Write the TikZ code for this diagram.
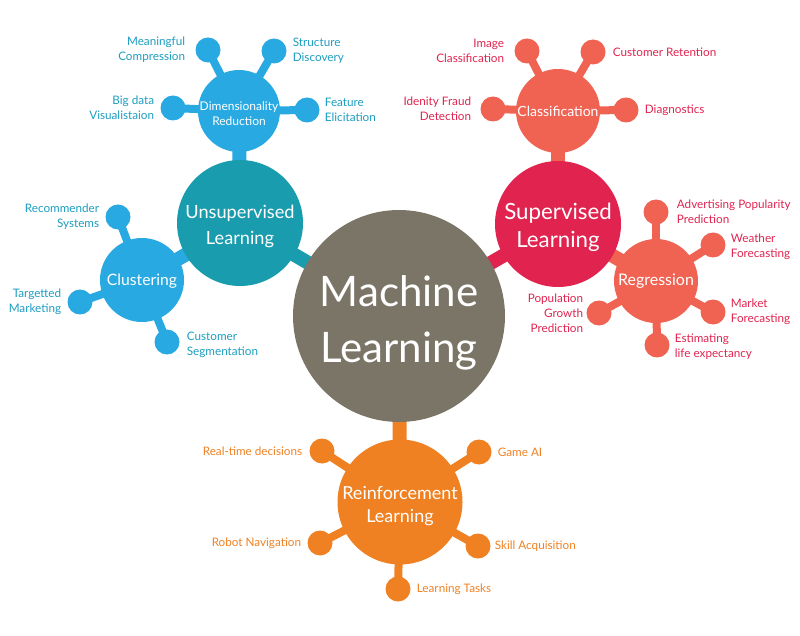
\documentclass[tikz,border=0pt]{standalone}
\usepackage{fontspec}
\setmainfont{Lato}
\usepackage{tikz}
\usetikzlibrary{positioning,backgrounds}

\definecolor{mlgray}{HTML}{7A7566}
\definecolor{unsupc}{HTML}{199DAE}
\definecolor{dimc}{HTML}{29A9E1}
\definecolor{bluetext}{HTML}{1C9DC0}
\definecolor{supc}{HTML}{E0234F}
\definecolor{clsc}{HTML}{F06252}
\definecolor{rlc}{HTML}{EF8123}

\begin{document}
\begin{tikzpicture}[x=1pt,y=-1pt,
    hub/.style={circle,fill=#1,inner sep=0pt,outer sep=0pt},
    hubtext/.style={text=white,align=center,inner sep=0pt},
    dot/.style={circle,fill=#1,inner sep=0pt,minimum size=25pt},
    lab/.style={text=#1,font=\fontsize{11.7}{15}\selectfont,inner sep=0pt},
    stem/.style={draw=#1,line width=14pt},
    twig/.style={draw=#1,line width=8pt}]
        \useasboundingbox (0,0) rectangle (800,636);

        % hubs
        \node[hub=mlgray,minimum size=212pt,label={[hubtext,yshift=-7pt,font=\fontsize{42}{56}\selectfont]center:Machine\\Learning}] (ml) at (399,316) {};
        \node[hub=unsupc,minimum size=126pt,label={[hubtext,yshift=-3pt,font=\fontsize{18.2}{26}\selectfont]center:Unsupervised\\Learning}] (unsup) at (240,223) {};
        \node[hub=supc,minimum size=126pt,label={[hubtext,yshift=-3pt,font=\fontsize{22.3}{28}\selectfont]center:Supervised\\Learning}] (sup) at (558,224) {};
        \node[hub=rlc,minimum size=125pt,label={[hubtext,yshift=-4pt,font=\fontsize{18}{23}\selectfont]center:Reinforcement\\Learning}] (rl) at (400,502) {};
        \node[hub=dimc,minimum size=82pt,label={[hubtext,yshift=-3pt,font=\fontsize{12}{15}\selectfont]center:Dimensionality\\Reduction}] (dim) at (239,111) {};
        \node[hub=dimc,minimum size=84pt,label={[hubtext,yshift=-1pt,font=\fontsize{15.7}{18}\selectfont]center:Clustering}] (clus) at (142,280) {};
        \node[hub=clsc,minimum size=84pt,label={[hubtext,font=\fontsize{14}{17}\selectfont]center:Classification}] (cls) at (558,111) {};
        \node[hub=clsc,minimum size=84pt,label={[hubtext,font=\fontsize{16}{18}\selectfont]center:Regression}] (reg) at (656,281) {};

        % satellites
        \node[dot=dimc] (mc) at (208,50) {};
        \node[dot=dimc] (sd) at (274,51) {};
        \node[dot=dimc] (bd) at (173,108) {};
        \node[dot=dimc] (fe) at (307,110) {};
        \node[dot=dimc] (rs) at (118,217) {};
        \node[dot=dimc] (tm) at (80,302) {};
        \node[dot=dimc] (cs) at (167,342) {};
        \node[dot=clsc] (ic) at (527,51) {};
        \node[dot=clsc] (cr) at (593,52) {};
        \node[dot=clsc] (fd) at (493,109) {};
        \node[dot=clsc] (dg) at (626,110) {};
        \node[dot=clsc] (ap) at (656,212) {};
        \node[dot=clsc] (wf) at (713,245) {};
        \node[dot=clsc] (mf) at (713,312) {};
        \node[dot=clsc] (el) at (657,345) {};
        \node[dot=clsc] (pg) at (599,313) {};
        \node[dot=rlc] (rt) at (322,451) {};
        \node[dot=rlc] (ga) at (479,452) {};
        \node[dot=rlc] (rn) at (320,543) {};
        \node[dot=rlc] (sa) at (478,546) {};
        \node[dot=rlc] (lt) at (398,589) {};

        % labels
        \node[lab=bluetext,align=right,left=10pt of mc] (lmc) {Meaningful\\Compression};
        \node[lab=bluetext,align=left,right=6pt of sd] (lsd) {Structure\\Discovery};
        \node[lab=bluetext,align=right,left=6pt of bd] (lbd) {Big data\\Visualistaion};
        \node[lab=bluetext,align=left,right=5pt of fe] (lfe) {Feature\\Elicitation};
        \node[lab=bluetext,align=right,left=6pt of rs] (lrs) {Recommender\\Systems};
        \node[lab=bluetext,align=right,left=6pt of tm] (ltm) {Targetted\\Marketing};
        \node[lab=bluetext,align=left,right=7pt of cs,yshift=-3pt] (lcs) {Customer\\Segmentation};
        \node[lab=supc,align=right,left=10pt of ic] (lic) {Image\\Classification};
        \node[lab=supc,right=7pt of cr] (lcr) {Customer Retention};
        \node[lab=supc,align=right,left=9pt of fd] (lfd) {Idenity Fraud\\Detection};
        \node[lab=supc,right=6pt of dg] (ldg) {Diagnostics};
        \node[lab=supc,align=left,right=8pt of ap] (lap) {Advertising Popularity\\Prediction};
        \node[lab=supc,align=left,right=5pt of wf,yshift=-2pt] (lwf) {Weather\\Forecasting};
        \node[lab=supc,align=left,right=5pt of mf] (lmf) {Market\\Forecasting};
        \node[lab=supc,align=left,right=5pt of el,yshift=-2pt] (lel) {Estimating\\life expectancy};
        \node[lab=supc,align=right,left=3pt of pg] (lpg) {Population\\Growth\\Prediction};
        \node[lab=rlc,left=7pt of rt] (lrt) {Real-time decisions};
        \node[lab=rlc,right=6pt of ga] (lga) {Game AI};
        \node[lab=rlc,left=6pt of rn] (lrn) {Robot Navigation};
        \node[lab=rlc,right=4pt of sa] (lsa) {Skill Acquisition};
        \node[lab=rlc,right=6pt of lt] (llt) {Learning Tasks};

        % connectors
        \begin{pgfonlayer}{background}
        \draw[stem=unsupc] (ml.center) -- (unsup.center);
        \draw[stem=supc] (ml.center) -- (sup.center);
        \draw[stem=rlc] (ml.center) -- (rl.center);
        \draw[stem=dimc] (unsup.center) -- (dim.center);
        \draw[stem=dimc] (unsup.center) -- (clus.center);
        \draw[stem=clsc] (sup.center) -- (cls.center);
        \draw[stem=clsc] (sup.center) -- (reg.center);
        \foreach \s in {mc,sd,bd,fe}
            \draw[twig=dimc] (dim.center) -- (\s.center);
        \foreach \s in {rs,tm,cs}
            \draw[twig=dimc] (clus.center) -- (\s.center);
        \foreach \s in {ic,cr,fd,dg}
            \draw[twig=clsc] (cls.center) -- (\s.center);
        \foreach \s in {ap,wf,mf,el,pg}
            \draw[twig=clsc] (reg.center) -- (\s.center);
        \foreach \s in {rt,ga,rn,sa,lt}
            \draw[twig=rlc] (rl.center) -- (\s.center);
        \end{pgfonlayer}
    \end{tikzpicture}
\end{document}
